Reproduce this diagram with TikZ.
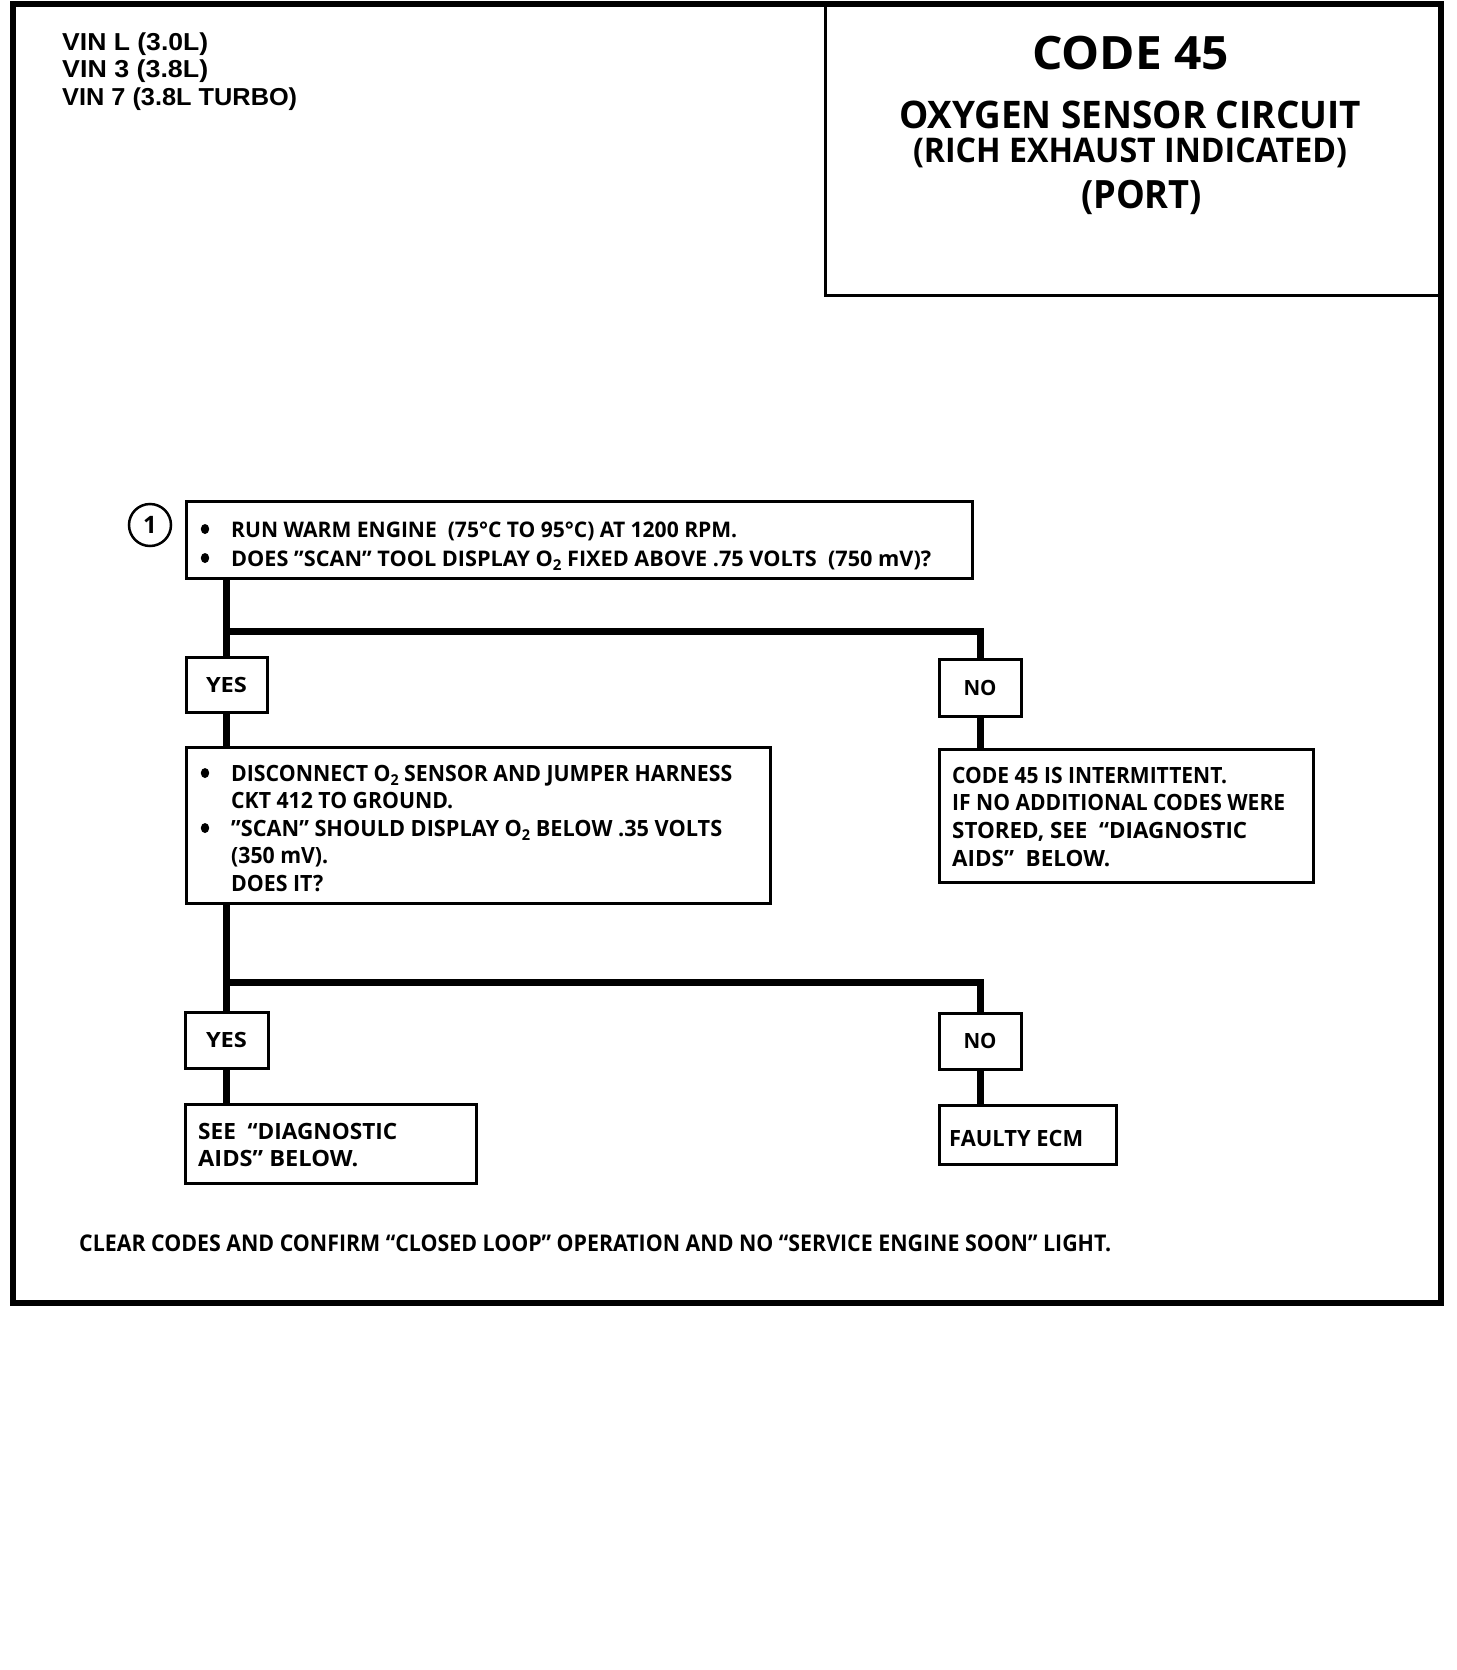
\documentclass[tikz,border=0pt]{standalone}
\usepackage{fontspec}
\usepackage{graphicx}
\setmainfont{Open Sans}
\newfontfamily\arialb{Liberation Sans}
\newcommand\fs[1]{\fontsize{#1}{#1}\selectfont}
\newcommand\lw[2]{\resizebox{#1pt}{\height}{#2}}
\newcommand\Ot{O\raisebox{-4.5pt}{\fs{15}2}}
\newcommand\ind{\hspace*{30pt}}
\newcommand\lines[2]{\vtop{\baselineskip=#1pt\lineskiplimit=-100pt #2}}
\tikzset{
  boxst/.style={draw, line width=3pt, inner sep=0pt},
  conn/.style={line width=7pt},
  bulst/.style={fill=black},
  txt/.style={inner sep=0pt, anchor=base west, font=\bfseries\fs{22.4}},
  ynt/.style={font=\bfseries\fs{21}},
  ttl/.style={inner sep=0pt, anchor=base, font=\bfseries},
  vin/.style={inner sep=0pt, anchor=base west, font=\arialb\bfseries\fs{24.5}},
}
\begin{document}
\begin{tikzpicture}[x=1pt,y=-1pt]
\useasboundingbox (0,0) rectangle (1456,1670);
\fill[white] (0,0) rectangle (1456,1670);
% outer frame
\draw[line width=5.5pt] (13,4) rectangle (1441,1303);
% vin block
\node[vin] (v1) at (62,50) {\lw{146}{VIN L (3.0L)}};
\node[vin] (v2) at (62,77) {\lw{146}{VIN 3 (3.8L)}};
\node[vin] (v3) at (62,105) {\lw{235}{VIN 7 (3.8L TURBO)}};
% title box
\node[boxst, minimum width=616pt, minimum height=291pt] (title) at (1133,149.5) {};
\node[ttl] (t1) at (1130.5,69) {\fs{46}\lw{197}{CODE 45}};
\node[ttl] (t2) at (1130,128) {\fs{38}\lw{462}{OXYGEN SENSOR CIRCUIT}};
\node[ttl] (t3) at (1130,162.5) {\fs{34}\lw{434}{(RICH EXHAUST INDICATED)}};
\node[ttl] (t4) at (1141.5,208) {\fs{39}\lw{121}{(PORT)}};
% step marker
\node[draw, circle, line width=2.5pt, minimum size=42pt, inner sep=0pt, font=\bfseries\fs{24}] (c1) at (150,525) {1};
% boxes
\node[boxst, minimum width=786pt, minimum height=77pt] (s1) at (579,539.5) {};
\node[boxst, minimum width=81pt, minimum height=55pt, ynt] (y1) at (226.5,684.5) {\lw{41}{YES}};
\node[boxst, minimum width=82pt, minimum height=57pt, ynt] (n1) at (980,687.5) {\lw{33}{NO}};
\node[boxst, minimum width=584pt, minimum height=156pt] (s2) at (478,825) {};
\node[boxst, minimum width=374pt, minimum height=133pt] (s3) at (1126,815.5) {};
\node[boxst, minimum width=83pt, minimum height=56pt, ynt] (y2) at (226.5,1040) {\lw{41}{YES}};
\node[boxst, minimum width=82pt, minimum height=56pt, ynt] (n2) at (980,1041) {\lw{33}{NO}};
\node[boxst, minimum width=291pt, minimum height=79pt] (s4) at (330.5,1143.5) {};
\node[boxst, minimum width=177pt, minimum height=59pt] (s5) at (1027.5,1134.5) {};
% bullets
\fill[bulst] (205,529) ellipse (4.2 and 5);
\fill[bulst] (205,558) ellipse (4.2 and 5);
\fill[bulst] (205,773) ellipse (4.2 and 5);
\fill[bulst] (205,828) ellipse (4.2 and 5);
% box texts
\node[txt, font=\bfseries\fs{21.5}] (s1t) at (201,537) {\lines{29}{%
  \hbox{\ind\lw{506}{RUN WARM ENGINE\ \ (75°C TO 95°C) AT 1200 RPM.}}%
  \hbox{\ind\lw{700}{DOES ”SCAN” TOOL DISPLAY \Ot\ FIXED ABOVE .75 VOLTS\ \ (750 mV)?}}}};
\node[txt] (s2t) at (201,781) {\lines{27.6}{%
  \hbox{\ind\lw{501}{DISCONNECT \Ot\ SENSOR AND JUMPER HARNESS}}%
  \hbox{\ind\lw{222}{CKT 412 TO GROUND.}}%
  \hbox{\ind\lw{491}{”SCAN” SHOULD DISPLAY \Ot\ BELOW .35 VOLTS}}%
  \hbox{\ind\lw{97}{(350 mV).}}%
  \hbox{\ind\lw{92}{DOES IT?}}}};
\node[txt] (s3t) at (952,783) {\lines{27.7}{%
  \hbox{\lw{275}{CODE 45 IS INTERMITTENT.}}%
  \hbox{\lw{333}{IF NO ADDITIONAL CODES WERE}}%
  \hbox{\lw{295}{STORED, SEE\ \ “DIAGNOSTIC}}%
  \hbox{\lw{158}{AIDS”\ \ BELOW.}}}};
\node[txt] (s4t) at (198,1139) {\lines{27}{%
  \hbox{\lw{199}{SEE\ \ “DIAGNOSTIC}}%
  \hbox{\lw{160}{AIDS” BELOW.}}}};
\node[txt] (s5t) at (949,1146) {\lw{134}{FAULTY ECM}};
% footer
\node[txt, font=\bfseries\fs{23}] (foot) at (79,1251) {\lw{1032}{CLEAR CODES AND CONFIRM “CLOSED LOOP” OPERATION AND NO “SERVICE ENGINE SOON” LIGHT.}};
% connectors
\coordinate (b1) at (226.5,631);
\coordinate (b2) at (226.5,982);
\draw[conn] (s1.south -| y1) -- (y1.north);
\draw[conn] (b1) -| (n1.north);
\draw[conn] (y1.south) -- (y1.south |- s2.north);
\draw[conn] (n1.south) -- (n1.south |- s3.north);
\draw[conn] (s2.south -| y2) -- (y2.north);
\draw[conn] (b2) -| (n2.north);
\draw[conn] (y2.south) -- (y2.south |- s4.north);
\draw[conn] (n2.south) -- (n2.south |- s5.north);
\end{tikzpicture}
\end{document}
